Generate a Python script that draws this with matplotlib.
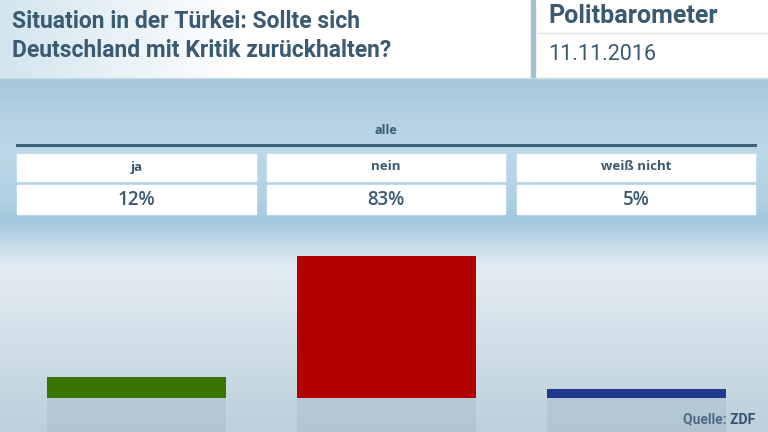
import numpy as np
import matplotlib
matplotlib.use("Agg")
import matplotlib.pyplot as plt
from matplotlib.colors import LinearSegmentedColormap
from matplotlib.patches import Rectangle

# data
kategorien = ["ja", "nein", "weiß nicht"]
werte = [12, 83, 5]
farben = ["#3b7300", "#b20000", "#1f3a8c"]
gruppe = "alle"
titel = "Situation in der Türkei: Sollte sich\nDeutschland mit Kritik zurückhalten?"
reihe = "Politbarometer"
datum = "11.11.2016"
quelle = "Quelle: ZDF"

W, H = 768, 432
txt = "#3a5a72"
narrow = ["Roboto", "DejaVu Sans"]
fam = ["Open Sans", "DejaVu Sans"]

fig = plt.figure(figsize=(W / 100, H / 100), dpi=100)

# background in pixel coords
bg = fig.add_axes([0, 0, 1, 1])
bg.set_xlim(0, W)
bg.set_ylim(H, 0)
bg.axis("off")

stops = [(78, "#a4c6d9"), (110, "#b2d0e1"), (150, "#bcd8e8"), (200, "#b0d1e3"),
         (222, "#a2c7dc"), (245, "#c8dce8"), (268, "#e2ecf2"), (300, "#dce7ee"),
         (360, "#cddce6"), (432, "#bccfdb")]
cmap = LinearSegmentedColormap.from_list(
    "bg", [((y - 78) / (432 - 78), c) for y, c in stops])
grad = np.linspace(0, 1, 400).reshape(-1, 1)
bg.imshow(grad, cmap=cmap, extent=[0, W, 432, 78], aspect="auto", zorder=0)

# header
hcm = LinearSegmentedColormap.from_list("h", ["#d3e5ef", "#ffffff"])
hgrad = np.clip(np.linspace(0, 2.2, 500), 0, 1).reshape(1, -1)
bg.imshow(hgrad, cmap=hcm, extent=[0, 532, 78, 0], aspect="auto", zorder=1)
bg.add_patch(Rectangle((536, 0), W - 536, 78, color="white", zorder=1))
bg.add_patch(Rectangle((531, 0), 4, 78, color="#a6bfce", zorder=2))
bg.plot([538, W], [33, 33], color="#dde5ea", lw=1, zorder=2)
bg.plot([0, W], [78, 78], color="#c9dbe6", lw=1, zorder=2)

bg.text(12, 36, titel, fontsize=16.5, fontweight="bold", color=txt, family=narrow,
        va="center", ha="left", linespacing=1.3, zorder=3)
bg.text(548, 16, reihe, fontsize=18, fontweight="bold", color=txt, family=narrow,
        va="center", ha="left", zorder=3)
bg.text(548, 55, datum, fontsize=15.5, color=txt, family=narrow,
        va="center", ha="left", zorder=3)

# table
bg.text(386, 131, gruppe, fontsize=9, fontweight="bold", color=txt, family=fam,
        ha="center", va="center", zorder=3)
bg.plot([17, 755], [145, 145], color="#3d6079", lw=2.2, zorder=3)
zellen_x = [(17, 256), (267, 505), (517, 755)]
for (x0, x1), k, v in zip(zellen_x, kategorien, werte):
    bg.add_patch(Rectangle((x0, 154), x1 - x0, 27, color="white", zorder=2))
    bg.add_patch(Rectangle((x0, 185), x1 - x0, 29, color="white", zorder=2))
    bg.text((x0 + x1) / 2, 167, k, fontsize=9.5, fontweight="bold", color=txt,
            family=fam, ha="center", va="center", zorder=3)
    bg.text((x0 + x1) / 2, 200, f"{v}%", fontsize=13.5, fontweight="semibold",
            color=txt, family=fam, ha="center", va="center", zorder=3)

bg.text(755, 419, quelle, fontsize=10, fontweight="bold", color="#34536b",
        family=narrow, ha="right", va="center", zorder=3)

# bars
ax = fig.add_axes([11 / W, 1 - 398 / H, 750 / W, 171 / H])
ax.set_xlim(-0.5, 2.5)
ax.set_ylim(0, 100)
ax.patch.set_alpha(0)
ax.axis("off")
x = np.arange(len(werte))
ax.bar(x, werte, width=0.716, color=farben, zorder=3)

# reflection below
rx = fig.add_axes([11 / W, 0, 750 / W, 34 / H])
rx.set_xlim(-0.5, 2.5)
rx.set_ylim(0, 1)
rx.axis("off")
rx.patch.set_alpha(0)
rx.bar(x, [1] * len(x), width=0.716, color="#93abbf", alpha=0.28, zorder=1)

fig.savefig("out.png", dpi=100)
